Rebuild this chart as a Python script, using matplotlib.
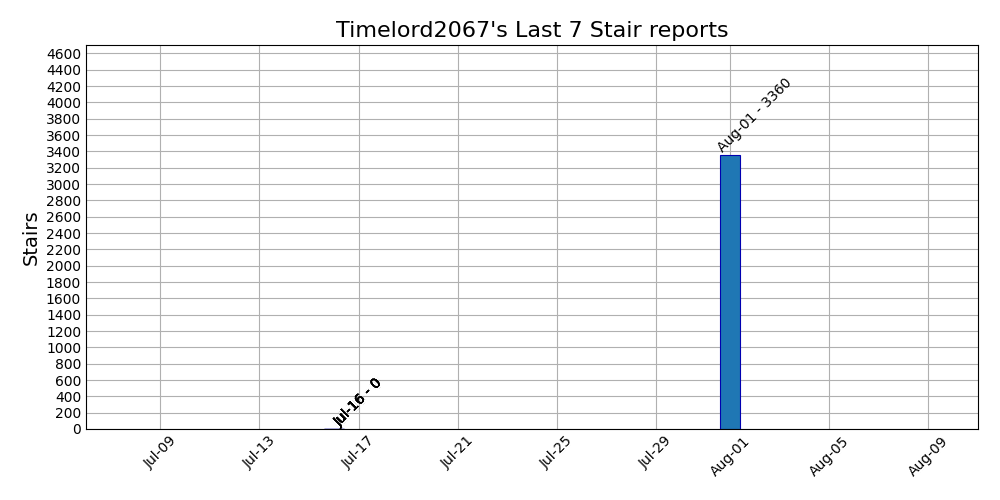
import pandas as pd
import matplotlib
matplotlib.use("Agg")
import matplotlib.pyplot as plt
import matplotlib.dates as mdates
from datetime import timedelta

# ── Data ──────────────────────────────────────────────────────────────────────
user = "Timelord2067"
report_dates = ["2024-07-16"] * 6 + ["2024-08-01"]
stairs = [0, 0, 0, 0, 0, 0, 3360]

dates = pd.to_datetime(report_dates)

# ── Plot ──────────────────────────────────────────────────────────────────────
fig, ax = plt.subplots(figsize=(10, 5), dpi=100)
fig.subplots_adjust(left=0.086, right=0.978, top=0.91, bottom=0.142)

ax.bar(dates, stairs, width=0.8, color="#1f77b4", edgecolor="#0000b0",
       linewidth=0.8, zorder=2)

# labels sit one day to the right of their bar
for d, v in zip(dates, stairs):
    ax.text(d + timedelta(days=1), v, f"{d:%b-%d} - {v}", rotation=45,
            ha="center", va="bottom", fontsize=10, zorder=4)

ax.set_xlim(dates.min() - timedelta(days=10), dates.max() + timedelta(days=10))
ax.set_ylim(0, max(stairs) * 1.4)
ax.set_yticks(range(0, 4601, 200))

ax.xaxis.set_major_locator(mdates.DayLocator(bymonthday=range(1, 32, 4)))
ax.xaxis.set_major_formatter(mdates.DateFormatter("%b-%d"))
plt.setp(ax.get_xticklabels(), rotation=45)
ax.tick_params(length=0, labelsize=10)

ax.grid(True, color="#b0b0b0", linewidth=0.8, zorder=0)
ax.set_axisbelow(True)

ax.set_title(f"{user}'s Last {len(stairs)} Stair reports", fontsize=16)
ax.set_ylabel("Stairs", fontsize=14)

plt.savefig("out.png", dpi=100)
plt.close()
